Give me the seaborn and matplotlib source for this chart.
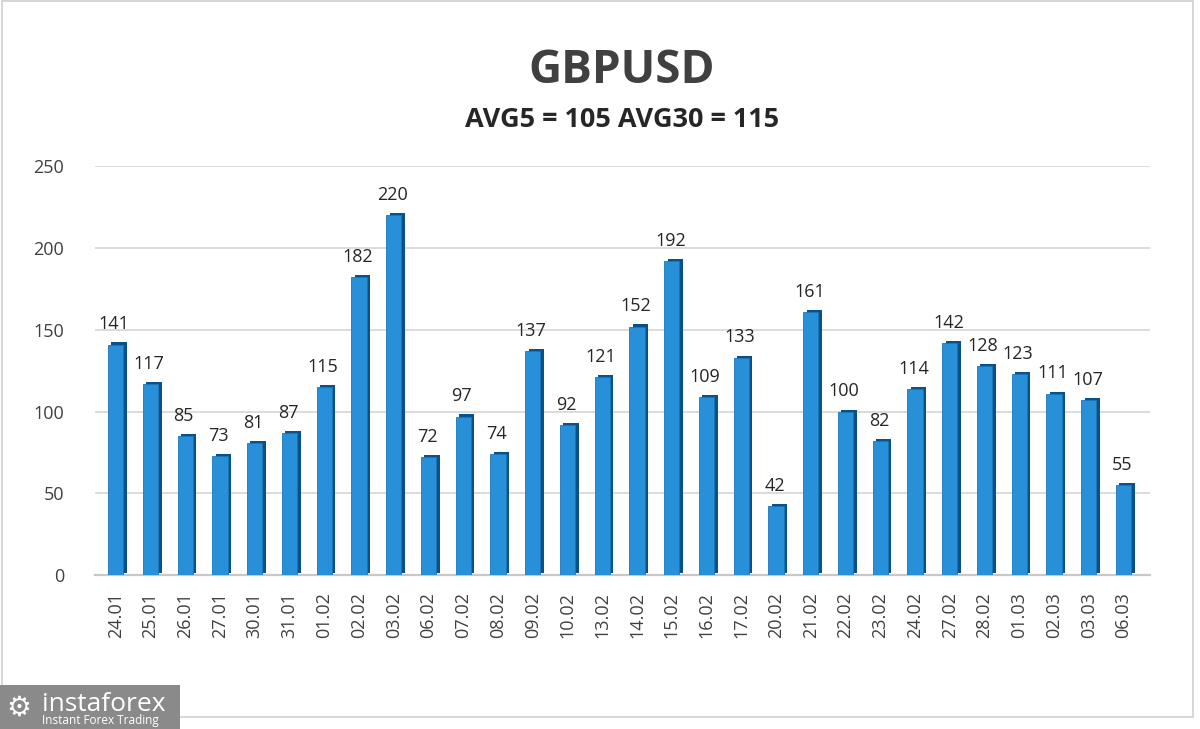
import pandas as pd
import numpy as np
import matplotlib.pyplot as plt
import matplotlib.patches as mpatches
import matplotlib.patheffects as pe
import seaborn as sns

# Chart data
dates = ['24.01', '25.01', '26.01', '27.01', '30.01', '31.01', '01.02', '02.02', '03.02', '06.02',
         '07.02', '08.02', '09.02', '10.02', '13.02', '14.02', '15.02', '16.02', '17.02', '20.02',
         '21.02', '22.02', '23.02', '24.02', '27.02', '28.02', '01.03', '02.03', '03.03', '06.03']
values = [141, 117, 85, 73, 81, 87, 115, 182, 220, 72,
          97, 74, 137, 92, 121, 152, 192, 109, 133, 42,
          161, 100, 82, 114, 142, 128, 123, 111, 107, 55]
title = 'GBPUSD'
subtitle = 'AVG5 = 105 AVG30 = 115'
y_ticks = [0, 50, 100, 150, 200, 250]

df = pd.DataFrame({'date': dates, 'value': values})

sns.set_theme(style='white')
plt.rcParams['font.family'] = ['Open Sans', 'DejaVu Sans']

fig = plt.figure(figsize=(12, 7.29), dpi=100)
ax = fig.add_axes([0.079, 0.211, 0.879, 0.561])

# Bars, with a dark offset copy to fake the 3D side
sns.barplot(data=df, x='date', y='value', color='#2790d8', saturation=1,
            edgecolor='#1a76b8', linewidth=0.6, width=0.44, ax=ax, zorder=3)
for bar in ax.patches:
    bar.set_path_effects([pe.SimplePatchShadow(offset=(2.5, 1.5), shadow_rgbFace='#0b5189', alpha=1),
                          pe.Normal()])

# Value labels
for i, v in enumerate(values):
    ax.annotate(str(v), (i, v), xytext=(-1, 8), textcoords='offset points',
                ha='center', va='bottom', fontsize=13, color='#262626')

ax.set_ylim(0, 250)
ax.set_xlim(-0.6, 29.75)
ax.set_yticks(y_ticks)
ax.yaxis.grid(True, color='#d9d9d9', linewidth=1.3, zorder=0)
ax.set_axisbelow(True)
for side in ['top', 'right', 'left']:
    ax.spines[side].set_visible(False)
ax.spines['bottom'].set_color('#c8c8c8')
ax.spines['bottom'].set_linewidth(1.6)
ax.set_xlabel('')
ax.set_ylabel('')
ax.tick_params(axis='y', labelsize=13, labelcolor='#404040', pad=22, length=0)
ax.tick_params(axis='x', labelsize=13, labelcolor='#404040', pad=12, length=0, rotation=90)

# Titles
fig.text(0.518, 0.903, title, ha='center', va='center', fontsize=33,
         fontweight='bold', color='#404040')
fig.text(0.518, 0.836, subtitle, ha='center', va='center', fontsize=19.5,
         fontweight='bold', color='#262626')

# Outer frame
fig.patches.append(mpatches.Rectangle((0.002, 0.016), 0.992, 0.982, transform=fig.transFigure,
                                      fill=False, edgecolor='#d0d0d0', linewidth=1.2))

# Logo box
fig.patches.append(mpatches.Rectangle((0.0, 0.0), 0.15, 0.06, transform=fig.transFigure,
                                      facecolor='#8a8a8a', edgecolor='none'))
fig.text(0.035, 0.034, 'instaforex', ha='left', va='center', fontsize=19, color='white')
fig.text(0.035, 0.011, 'Instant Forex Trading', ha='left', va='center', fontsize=8.5, color='white')
fig.text(0.016, 0.03, '\u2699', ha='center', va='center', fontsize=20, color='white',
         family=['DejaVu Sans'])

fig.savefig('out.png', dpi=100, facecolor='white')
